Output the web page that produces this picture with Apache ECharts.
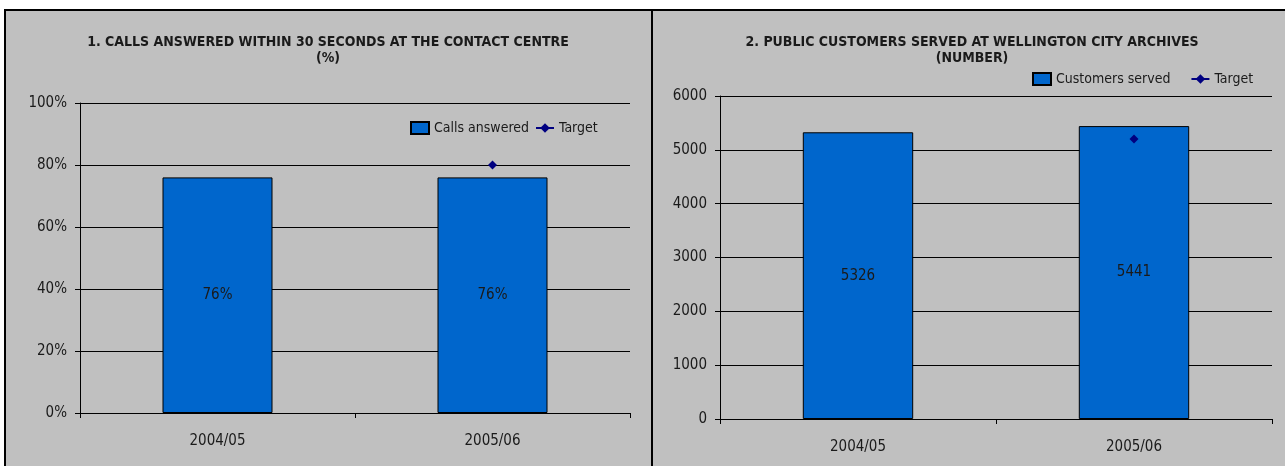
<!DOCTYPE html>
<html><head><meta charset="utf-8">
<script src="https://cdn.jsdelivr.net/npm/echarts@6/dist/echarts.min.js"></script>
<style>
html,body{margin:0;padding:0;background:#fff;width:1285px;height:466px;overflow:hidden}
#panel{position:absolute;left:4px;top:9px;width:1281px;height:457px;background:#c0c0c0;border-left:2px solid #000;border-top:2px solid #000;box-sizing:border-box}
#divider{position:absolute;left:651px;top:9px;width:2px;height:457px;background:#000}
#chart{position:absolute;left:0;top:0;width:1285px;height:466px}
</style></head>
<body><div id="panel"></div><div id="divider"></div><div id="chart"></div>
<script>
const categories = ['2004/05', '2005/06'];
const callsAnswered = [76, 76];
const callsTarget = [null, 80];
const customersServed = [5326, 5441];
const customersTarget = [null, 5200];
const title1 = '1. CALLS ANSWERED WITHIN 30 SECONDS AT THE CONTACT CENTRE\n(%)';
const title2 = '2. PUBLIC CUSTOMERS SERVED AT WELLINGTON CITY ARCHIVES\n(NUMBER)';

const FONT = '"Liberation Sans Narrow","Arial Narrow","DejaVu Sans Condensed",sans-serif';
const TXT = '#1a1a1a';
const BLUE = '#0066CC';
const NAVY = '#000080';

function xAxis(gi) {
  return {
    type: 'category', gridIndex: gi, data: categories,
    axisLine: {lineStyle: {color: '#000', width: 1}},
    axisTick: {show: true, length: 5, lineStyle: {color: '#000'}},
    axisLabel: {color: TXT, fontFamily: FONT, fontSize: 15, margin: 21},
    splitLine: {show: false}
  };
}
function yAxis(gi, max, interval, fmt) {
  return {
    type: 'value', gridIndex: gi, min: 0, max: max, interval: interval,
    axisLine: {show: true, lineStyle: {color: '#000', width: 1}},
    axisTick: {show: true, length: 5, lineStyle: {color: '#000'}},
    axisLabel: {color: TXT, fontFamily: FONT, fontSize: 15, margin: 13, formatter: fmt},
    splitLine: {show: true, lineStyle: {color: '#000', width: 1}}
  };
}

const chart = echarts.init(document.getElementById('chart'), null, {renderer: 'canvas'});
chart.setOption({
  backgroundColor: 'transparent',
  animation: false,
  graphic: [
    {type: 'text', x: 328, y: 34, style: {text: title1, textAlign: 'center', fill: TXT, font: 'bold 14px ' + FONT, lineHeight: 16}},
    {type: 'text', x: 972, y: 34, style: {text: title2, textAlign: 'center', fill: TXT, font: 'bold 14px ' + FONT, lineHeight: 16}}
  ],
  grid: [
    {left: 80, top: 103, width: 550, height: 310},
    {left: 720, top: 96, width: 552, height: 323}
  ],
  legend: [
    {left: 410, top: 121, padding: 0, itemWidth: 18, itemHeight: 12, itemGap: 6,
     textStyle: {color: TXT, fontFamily: FONT, fontSize: 14},
     data: [{name: 'Calls answered', icon: 'rect'}, 'Target']},
    {left: 1032, top: 72, padding: 0, itemWidth: 18, itemHeight: 12, itemGap: 20,
     textStyle: {color: TXT, fontFamily: FONT, fontSize: 14},
     data: [{name: 'Customers served', icon: 'rect'}, 'Target ']}
  ],
  xAxis: [xAxis(0), xAxis(1)],
  yAxis: [yAxis(0, 100, 20, '{value}%'), yAxis(1, 6000, 1000, function (v) { return String(v); })],
  series: [
    {name: 'Calls answered', type: 'bar', xAxisIndex: 0, yAxisIndex: 0, data: callsAnswered, barWidth: '40%',
     itemStyle: {color: BLUE, borderColor: '#000', borderWidth: 1},
     label: {show: true, position: 'inside', formatter: '{c}%', color: TXT, fontFamily: FONT, fontSize: 15}},
    {name: 'Target', type: 'line', xAxisIndex: 0, yAxisIndex: 0, data: callsTarget,
     symbol: 'diamond', symbolSize: 9, itemStyle: {color: NAVY}, lineStyle: {color: NAVY, width: 2}},
    {name: 'Customers served', type: 'bar', xAxisIndex: 1, yAxisIndex: 1, data: customersServed, barWidth: '40%',
     itemStyle: {color: BLUE, borderColor: '#000', borderWidth: 1},
     label: {show: true, position: 'inside', color: TXT, fontFamily: FONT, fontSize: 15}},
    {name: 'Target ', type: 'line', xAxisIndex: 1, yAxisIndex: 1, data: customersTarget,
     symbol: 'diamond', symbolSize: 9, itemStyle: {color: NAVY}, lineStyle: {color: NAVY, width: 2}}
  ]
});
</script>
</body></html>
